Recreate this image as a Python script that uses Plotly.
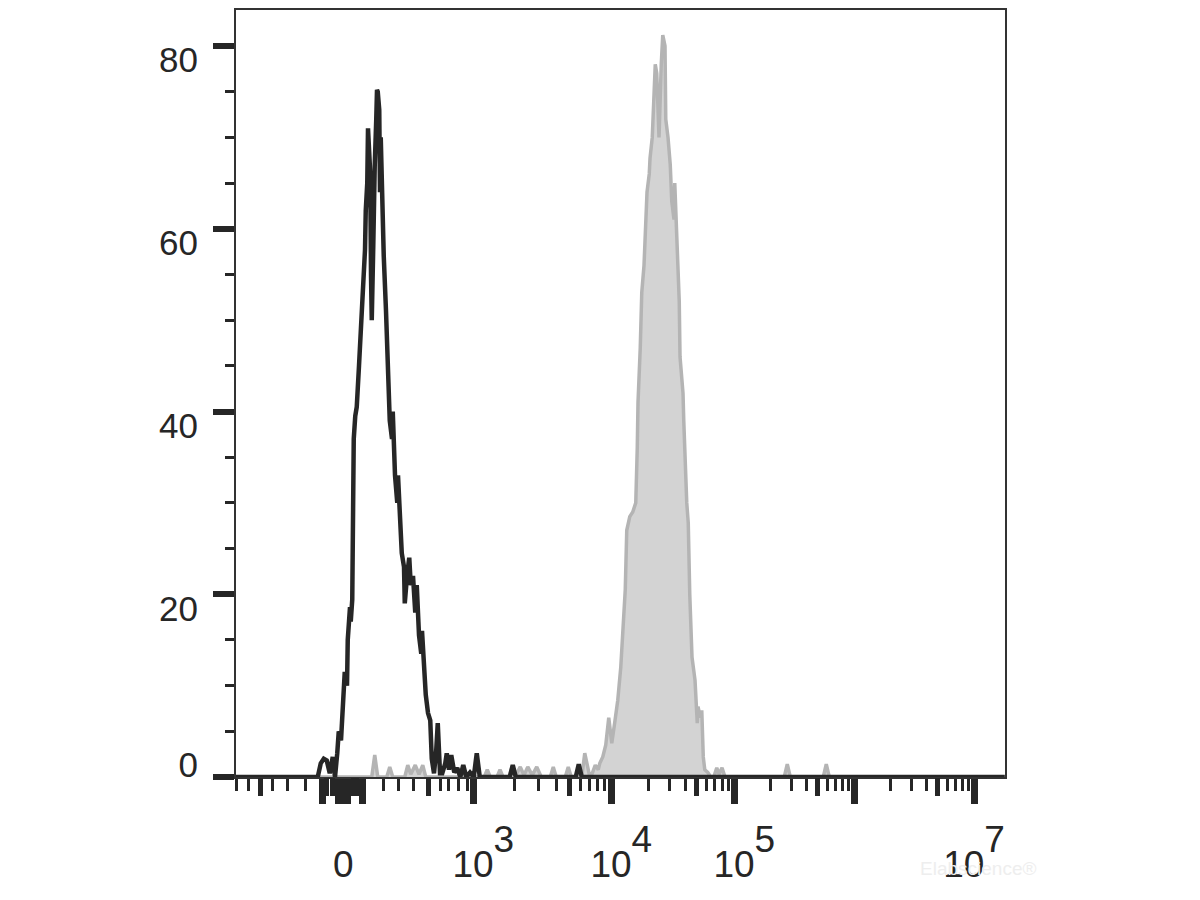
import plotly.graph_objects as go
import math

# ---------------- data (x in display channels, 0-1025; y = cell count) ----------------
black_ch = [0, 109, 113, 117, 121, 125, 129, 132, 135, 137, 140, 143, 145, 148, 149, 152, 153, 155,
            156, 157, 159, 161, 164, 167, 169, 172, 173, 175, 176, 177, 179, 180, 181, 183, 184, 185,
            187, 188, 189, 191, 192, 193, 195, 197, 200, 203, 205, 208, 209, 212, 215, 216, 219, 221,
            224, 225, 228, 231, 233, 236, 239, 241, 244, 247, 248, 251, 253, 256, 259, 261, 264, 267,
            269, 272, 275, 279, 281, 284, 287, 291, 295, 299, 303, 307, 312, 317, 321, 325, 365, 369,
            373, 453, 457, 461, 1025]
black_count = [0, 0, 1.5, 2.0, 1.8, 0.4, 2.2, 0, 2.6, 5.0, 4.0, 7.7, 11.5, 10, 15, 18.6, 17, 19.4,
               30, 37, 39.5, 40.5, 45, 50, 54, 57.7, 62, 65, 71, 69, 66, 55, 50, 58, 64, 67,
               72, 75.2, 75, 73, 64, 70, 62, 57, 51, 44, 39, 37, 40, 33, 30, 33, 27, 24.5,
               23, 19, 22, 24, 21, 22, 18, 21, 15.5, 13.5, 16, 11, 9, 7, 6.2, 2, 0.4, 3,
               5.9, 0.4, 0.4, 1.5, 2.6, 0.8, 2.4, 0.5, 1.0, 0, 1.3, 0, 0.5, 0, 2.6, 0, 0, 1.3,
               0, 0, 1.4, 0, 0]

gray_ch = [0, 181, 185, 189, 201, 205, 209, 225, 229, 233, 239, 244, 249, 253, 331, 335, 339, 348,
           352, 356, 364, 368, 373, 379, 384, 389, 395, 401, 407, 419, 423, 427, 439, 443, 447, 461,
           465, 471, 475, 479, 483, 485, 489, 493, 497, 501, 505, 509, 513, 516, 519, 521, 525, 529,
           533, 535, 536, 539, 541, 544, 545, 548, 551, 552, 555, 557, 559, 561, 564, 567, 569, 572,
           573, 576, 579, 581, 584, 585, 588, 591, 592, 595, 596, 597, 599, 601, 603, 605, 608, 612,
           615, 616, 619, 621, 623, 625, 629, 633, 637, 641, 644, 648, 652, 731, 735, 739, 783, 787,
           791, 1025]
gray_count = [0, 0, 2.4, 0, 0, 1.1, 0, 0, 1.3, 0.3, 1.3, 0.3, 1.3, 0, 0, 0.8, 0, 0,
              0.8, 0, 0, 1.1, 0.2, 1.1, 0.2, 1.1, 0.2, 1.1, 0, 0, 1.1, 0, 0, 1.1, 0, 0,
              2.6, 0.3, 0.4, 1.3, 0.8, 1.5, 2.2, 3.5, 6.5, 3.7, 6, 8.4, 12, 17, 20.5, 27, 28.5, 29,
              30, 36, 41, 47, 53, 56, 58.5, 64, 66, 67.7, 70, 74, 78, 77, 70, 78, 81.2, 80,
              72, 70, 67, 63, 61, 65, 58.5, 52, 46, 43, 42, 39, 33, 30, 27.8, 20, 13.1, 10.6,
              5.9, 7.7, 6.5, 7.3, 2.2, 0.8, 0.5, 0, 0, 1.0, 0.3, 1.0, 0, 0, 1.4, 0, 0, 1.4,
              0, 0]

y_tick_vals = [0, 20, 40, 60, 80]
x_tick_labels = ["0", "10^3", "10^4", "10^5", "", "10^7"]

# ---------------- axis layout (display channel positions of the biexponential scale) ----------------
X_MAX = 1025.3
Y_MAX = 83.94
zero_ch = 143
decade_ch = [316, 500, 664, 824, 984]          # 10^3 .. 10^7
blob_major = [115, 136, 149, 168]
blob_medium = [121, 128, 156, 161]
low_minor = [0, 16, 48, 68, 93, 196, 216, 236, 272, 283, 296, 308]
low_medium = [32, 256]

minor_ch = list(low_minor)
medium_ch = list(low_medium) + blob_medium
for a, b in zip(decade_ch[:-1], decade_ch[1:]):
    w = b - a
    for m in range(2, 10):
        pos = a + w * math.log10(m)
        if m == 5:
            medium_ch.append(pos)
        else:
            minor_ch.append(pos)
major_ch = [zero_ch] + decade_ch + blob_major

# FlowJo-style label placement: 20..80 hang just below their tick, 0 sits just above it
LABEL_DROP = 1.55   # in count units
ZERO_LIFT = 1.30
ylab_vals = [y_tick_vals[0] + ZERO_LIFT] + [v - LABEL_DROP for v in y_tick_vals[1:]]
ylab_text = [str(v) for v in y_tick_vals]

FONT = "Arial, Liberation Sans, sans-serif"
INK = "#262626"
XFS = 37
YFS = 35


def fmt(lbl, pad):
    if "^" not in lbl:
        return lbl
    base, exp = lbl.split("^")
    sup = (f'<span style="font-size:35px"><sup><sup>'
           f'<span style="font-size:{XFS}px">{exp}</span></sup></sup></span>')
    lead = f'<span style="color:rgba(0,0,0,0)">{exp}</span>' if pad else ""
    return lead + base + sup


major_text = [fmt(t, t != "10^7") for t in x_tick_labels] + [""] * len(blob_major)

fig = go.Figure()
fig.add_trace(go.Scatter(
    x=gray_ch, y=gray_count, mode="lines", fill="tozeroy",
    fillcolor="#d3d3d3", line=dict(color="#b4b4b4", width=3.5),
    hoverinfo="skip", showlegend=False))
fig.add_trace(go.Scatter(
    x=black_ch, y=black_count, mode="lines",
    line=dict(color=INK, width=4.5), cliponaxis=False,
    hoverinfo="skip", showlegend=False))
# carrier trace for the overlay axes (medium ticks, shifted labels)
fig.add_trace(go.Scatter(
    x=[black_ch[0]], y=[black_count[0]], xaxis="x2", yaxis="y2", mode="lines",
    line=dict(width=0), hoverinfo="skip", showlegend=False))

fig.update_layout(
    width=1192, height=892,
    margin=dict(l=228, r=195, t=2, b=123, pad=0),
    paper_bgcolor="white", plot_bgcolor="white",
    font=dict(family=FONT, color=INK),
    xaxis=dict(
        range=[0, X_MAX], showgrid=False, zeroline=False, automargin=False,
        showline=True, linecolor="#333333", linewidth=2, mirror=True,
        tickmode="array", tickvals=major_ch, ticktext=major_text,
        ticks="outside", ticklen=25, tickwidth=7, tickcolor=INK,
        tickfont=dict(size=XFS, family=FONT, color=INK), ticklabelstandoff=29,
        minor=dict(tickmode="array", tickvals=minor_ch, ticks="outside",
                   ticklen=12, tickwidth=3, tickcolor=INK, showgrid=False),
    ),
    xaxis2=dict(
        overlaying="x", anchor="y", side="bottom", range=[0, X_MAX], automargin=False,
        showgrid=False, zeroline=False, showline=False,
        tickmode="array", tickvals=medium_ch, ticks="outside",
        ticklen=18, tickwidth=5, tickcolor=INK, showticklabels=False,
    ),
    yaxis=dict(
        range=[0, Y_MAX], showgrid=False, zeroline=False, automargin=False,
        showline=True, linecolor="#333333", linewidth=2, mirror=True,
        tickmode="array", tickvals=y_tick_vals, showticklabels=False,
        ticks="outside", ticklen=21, tickwidth=6, tickcolor=INK,
        minor=dict(dtick=5, tick0=0, ticks="outside", ticklen=9, tickwidth=3,
                   tickcolor=INK, showgrid=False),
    ),
    yaxis2=dict(
        overlaying="y", anchor="x", side="left", range=[0, Y_MAX], automargin=False,
        showgrid=False, zeroline=False, showline=False,
        tickmode="array", tickvals=ylab_vals, ticktext=ylab_text,
        ticks="outside", ticklen=21, tickwidth=1, tickcolor="rgba(0,0,0,0)",
        tickfont=dict(size=YFS, family=FONT, color=INK), ticklabelstandoff=9,
    ),
    annotations=[dict(
        text="Elabscience®", xref="paper", yref="paper", x=0.887, y=-0.119,
        xanchor="left", yanchor="middle", showarrow=False,
        font=dict(size=19, family=FONT, color="#eeeeee"))],
)

fig.write_html("out.html")
